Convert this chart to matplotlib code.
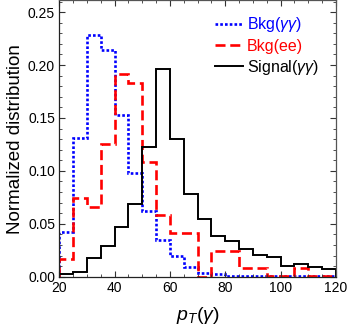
import matplotlib
matplotlib.use("Agg")
import matplotlib.pyplot as plt
from matplotlib.ticker import MultipleLocator, FormatStrFormatter
import numpy as np

plt.rcParams["font.family"] = ["Liberation Sans", "DejaVu Sans"]
plt.rcParams["mathtext.fontset"] = "custom"
plt.rcParams["mathtext.it"] = "Liberation Sans:italic"
plt.rcParams["mathtext.rm"] = "Liberation Sans"

# bin edges (pT in GeV, 5 GeV bins)
edges = np.arange(20, 125, 5)

bkg_aa = [0.042, 0.131, 0.228, 0.214, 0.153, 0.098, 0.062, 0.0345, 0.0198, 0.0094,
          0.0038, 0.0025, 0.001, 0.001, 0.0008, 0.0005, 0.0003, 0.0003, 0.0002, 0.0002]
bkg_ee = [0.0164, 0.0747, 0.066, 0.125, 0.192, 0.1834, 0.108, 0.058, 0.0415, 0.0415,
          0.0, 0.0245, 0.0245, 0.0085, 0.0085, 0.001, 0.001, 0.0085, 0.0005, 0.0005]
signal = [0.0025, 0.0047, 0.0173, 0.029, 0.0465, 0.0684, 0.123, 0.196, 0.13, 0.0785,
          0.055, 0.0383, 0.0336, 0.0258, 0.0204, 0.0183, 0.0104, 0.012, 0.0088, 0.0072]

fig = plt.figure(figsize=(3.49, 3.27), dpi=100)
ax = fig.add_axes([0.1696, 0.1538, 0.7932, 0.8447])

ax.stairs(bkg_aa, edges, color="#0000ff", lw=1.9, linestyle=(0, (1.0, 0.8)),
          label=r"Bkg($\gamma\gamma$)")
ax.stairs(bkg_ee, edges, color="#ff0000", lw=1.9, linestyle=(0, (3.8, 1.8)),
          label="Bkg(ee)")
ax.stairs(signal, edges, color="black", lw=1.4, label=r"Signal($\gamma\gamma$)")

ax.set_xlim(20, 120)
ax.set_ylim(0, 0.261)
ax.xaxis.set_major_locator(MultipleLocator(20))
ax.xaxis.set_minor_locator(MultipleLocator(5))
ax.yaxis.set_major_locator(MultipleLocator(0.05))
ax.yaxis.set_minor_locator(MultipleLocator(0.01))
ax.yaxis.set_major_formatter(FormatStrFormatter("%.2f"))
ax.tick_params(which="both", direction="in", top=True, right=True,
               labelsize=10, colors="#333333", labelcolor="black", pad=3)
ax.tick_params(which="major", length=4, width=0.8)
ax.tick_params(which="minor", length=2.2, width=0.6)
for s in ax.spines.values():
    s.set_color("#555555")
    s.set_linewidth(0.9)
ax.spines["bottom"].set_color("#222222")
ax.spines["left"].set_color("#222222")

ax.set_ylabel("Normalized distribution", fontsize=13.5, labelpad=3)
ax.set_xlabel(r"$p_T(\gamma)$", fontsize=14, labelpad=7)

leg = ax.legend(loc="upper left", bbox_to_anchor=(0.563, 0.947), frameon=False,
                fontsize=11.5, handlelength=1.75, handletextpad=0.25,
                labelspacing=0.28, borderaxespad=0.0, borderpad=0.0)
for txt, c in zip(leg.get_texts(), ["#0000ff", "#ff0000", "black"]):
    txt.set_color(c)

fig.savefig("out.png", dpi=100, facecolor="white")
